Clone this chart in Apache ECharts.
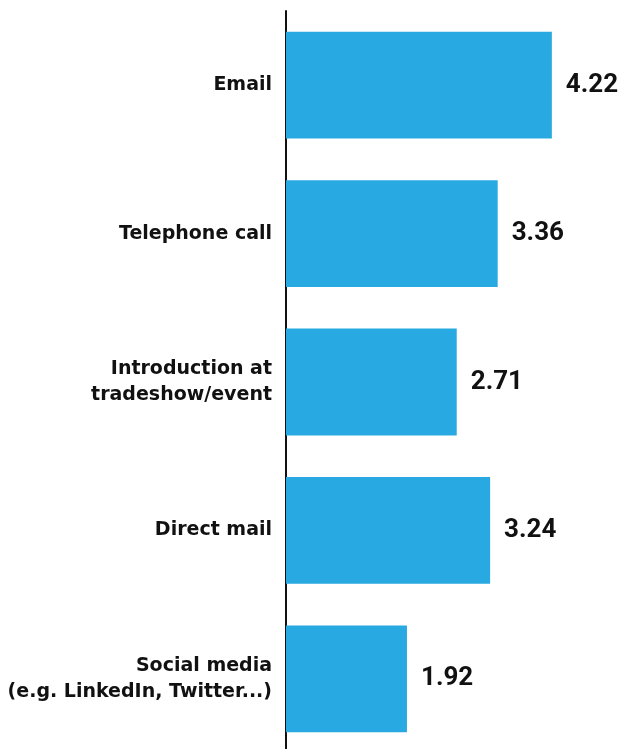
<!DOCTYPE html>
<html>
<head>
<meta charset="utf-8">
<script src="https://cdn.jsdelivr.net/npm/echarts@6/dist/echarts.min.js"></script>
<style>
  html, body { margin: 0; padding: 0; background: #fff; }
  #chart { width: 624px; height: 749px; }
</style>
</head>
<body>
<div id="chart"></div>
<script>
// Contact channels and their average scores
const channels = [
  'Email',
  'Telephone call',
  'Introduction at\ntradeshow/event',
  'Direct mail',
  'Social media\n(e.g. LinkedIn, Twitter...)'
];
const scores = [4.22, 3.36, 2.71, 3.24, 1.92];

const chart = echarts.init(document.getElementById('chart'));
chart.setOption({
  animation: false,
  grid: {
    left: 286, right: 23, top: 11, height: 742,
    containLabel: false,
    outerBoundsMode: 'none'
  },
  xAxis: {
    type: 'value',
    min: 0,
    max: 5,
    show: false
  },
  yAxis: {
    type: 'category',
    inverse: true,
    data: channels,
    axisLine: { show: true, lineStyle: { color: '#111', width: 2 } },
    axisTick: { show: false },
    axisLabel: {
      margin: 14,
      color: '#111',
      fontFamily: '"DejaVu Sans", sans-serif',
      fontWeight: 'bold',
      fontSize: 19,
      lineHeight: 26,
      align: 'right'
    }
  },
  series: [{
    type: 'bar',
    data: scores,
    barCategoryGap: '28%',
    itemStyle: { color: '#29a9e1' },
    label: {
      show: true,
      position: 'right',
      distance: 14,
      color: '#111',
      fontFamily: 'Roboto, sans-serif',
      fontWeight: 'bold',
      fontSize: 26,
      formatter: p => p.value.toFixed(2)
    }
  }]
});
</script>
</body>
</html>
